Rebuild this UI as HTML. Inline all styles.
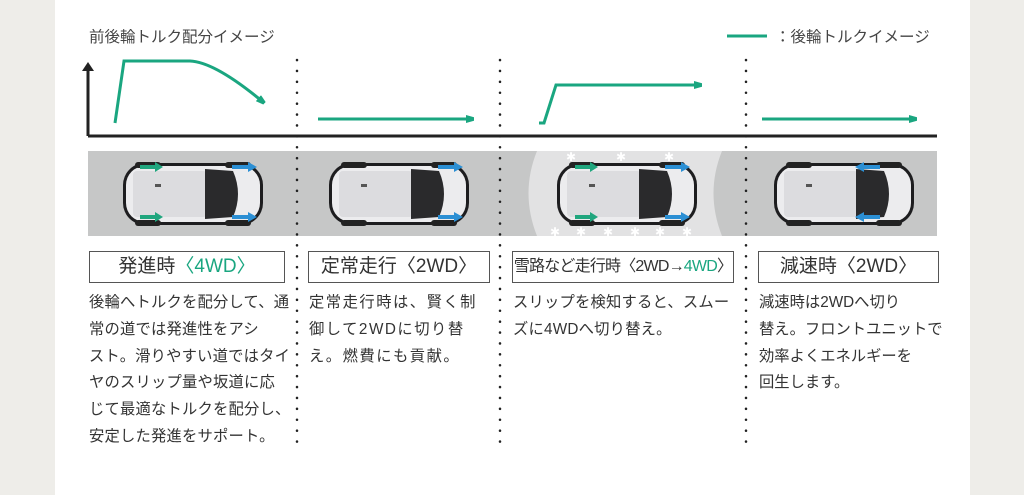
<!DOCTYPE html>
<html><head><meta charset="utf-8"><style>
body{margin:0;width:1024px;height:495px;background:#eeede9;overflow:hidden;font-family:"Liberation Sans","Noto Sans CJK JP",sans-serif;color:#333}
#p{position:absolute;left:55px;top:0;width:915px;height:495px;background:#fff}
.t{position:absolute;font-size:15.5px;color:#444;white-space:nowrap}
.box{position:absolute;top:251px;height:30px;border:1.5px solid #555;font-size:19px;line-height:30px;text-align:center;color:#333;white-space:nowrap}
.d{position:absolute;font-size:15.3px;line-height:26.8px;color:#333;top:290px;white-space:nowrap;letter-spacing:0.2px}
.g{color:#1aa680}
</style></head><body>
<div id="p"></div>
<svg width="1024" height="495" style="position:absolute;left:0;top:0">
<defs>
<g id="car">
<rect x="2" y="6" width="140" height="62" rx="22" fill="#1d1d1f"/>
<rect x="5" y="9" width="134" height="56" rx="19" fill="#ececee"/>
<rect x="12" y="14" width="74" height="46" rx="4" fill="#dcdcdf"/>
<path d="M84 12 L112 14 Q122 37 112 60 L84 62 Z" fill="#2a2a2c"/>
<rect x="14" y="5" width="26" height="6" rx="3" fill="#222"/>
<rect x="14" y="63" width="26" height="6" rx="3" fill="#222"/>
<rect x="104" y="5" width="26" height="6" rx="3" fill="#222"/>
<rect x="104" y="63" width="26" height="6" rx="3" fill="#222"/>
<rect x="34" y="27" width="6" height="3" fill="#555"/>
</g>
<marker id="ah" markerWidth="8" markerHeight="8" refX="6" refY="4" orient="auto" markerUnits="userSpaceOnUse"><path d="M0 0 L14 4 L0 8Z" fill="#1aa680"/></marker>
</defs>
<rect x="88" y="151" width="849" height="85" fill="#c6c7c7"/>
<path d="M537 151 Q520 193 537 236 L722 236 Q705 193 722 151 Z" fill="#e2e2e3"/>
<g fill="#fff" font-size="12" font-family="Liberation Sans,sans-serif">
<text x="566" y="161">✱</text><text x="616" y="161">✱</text><text x="664" y="161">✱</text>
<text x="550" y="236">✱</text><text x="576" y="236">✱</text><text x="603" y="236">✱</text><text x="630" y="236">✱</text><text x="655" y="236">✱</text><text x="682" y="236">✱</text>
</g>
<use href="#car" x="121" y="157"/>
<use href="#car" x="327" y="157"/>
<use href="#car" x="555" y="157"/>
<use href="#car" x="772" y="157"/>
<g stroke-width="4">
<path d="M140 167h17M140 217h17" stroke="#20a67e"/><path d="M155 162l8 5-8 5zM155 212l8 5-8 5z" fill="#20a67e"/>
<path d="M232 167h18M232 217h18M438 167h18M438 217h18M665 167h18M665 217h18" stroke="#2b8fd4"/>
<path d="M248 162l9 5-9 5zM248 212l9 5-9 5zM454 162l9 5-9 5zM454 212l9 5-9 5zM681 162l9 5-9 5zM681 212l9 5-9 5z" fill="#2b8fd4"/>
<path d="M575 167h17M575 217h17" stroke="#20a67e"/><path d="M590 162l8 5-8 5zM590 212l8 5-8 5z" fill="#20a67e"/>
<path d="M862 167h18M862 217h18" stroke="#2b8fd4"/><path d="M864 162l-9 5 9 5zM864 212l-9 5 9 5z" fill="#2b8fd4"/>
</g>
<path d="M88 136 H937" stroke="#222" stroke-width="3"/>
<path d="M88 136 V68" stroke="#222" stroke-width="3"/>
<path d="M82 71 L88 62 L94 71Z" fill="#222"/>
<g stroke="#1aa680" stroke-width="3" fill="none">
<path d="M115 123 L124 61 L190 61 Q215 62 263 102" marker-end="url(#ah)"/>
<path d="M318 119 H472" marker-end="url(#ah)"/>
<path d="M539 123 H544 L556 85 H700" marker-end="url(#ah)"/>
<path d="M762 119 H915" marker-end="url(#ah)"/>
<path d="M727 36 H767"/>
</g>
<g stroke="#222" stroke-width="2.5" stroke-linecap="round" stroke-dasharray="0.1 10.8">
<path d="M297 60 V452"/><path d="M500 60 V452"/><path d="M746 60 V452"/>
</g>
</svg>
<div class="t" style="left:89px;top:25px">前後輪トルク配分イメージ</div>
<div class="t" style="left:775px;top:25px">：後輪トルクイメージ</div>
<div class="box" style="left:89px;width:194px">発進時<span class="g">〈4WD〉</span></div>
<div class="box" style="left:308px;width:180px">定常走行〈2WD〉</div>
<div class="box" style="left:512px;width:220px;font-size:16px;letter-spacing:-0.8px">雪路など走行時〈2WD→<span class="g">4WD</span>〉</div>
<div class="box" style="left:758px;width:179px">減速時〈2WD〉</div>
<div class="d" style="left:89px">後輪へトルクを配分して、通<br>常の道では発進性をアシ<br>スト。滑りやすい道ではタイ<br>ヤのスリップ量や坂道に応<br>じて最適なトルクを配分し、<br>安定した発進をサポート。</div>
<div class="d" style="left:309px;letter-spacing:1.5px">定常走行時は、賢く制<br>御して2WDに切り替<br>え。燃費にも貢献。</div>
<div class="d" style="left:513px">スリップを検知すると、スムー<br>ズに4WDへ切り替え。</div>
<div class="d" style="left:759px;letter-spacing:0px">減速時は2WDへ切り<br>替え。フロントユニットで<br>効率よくエネルギーを<br>回生します。</div>
</body></html>
